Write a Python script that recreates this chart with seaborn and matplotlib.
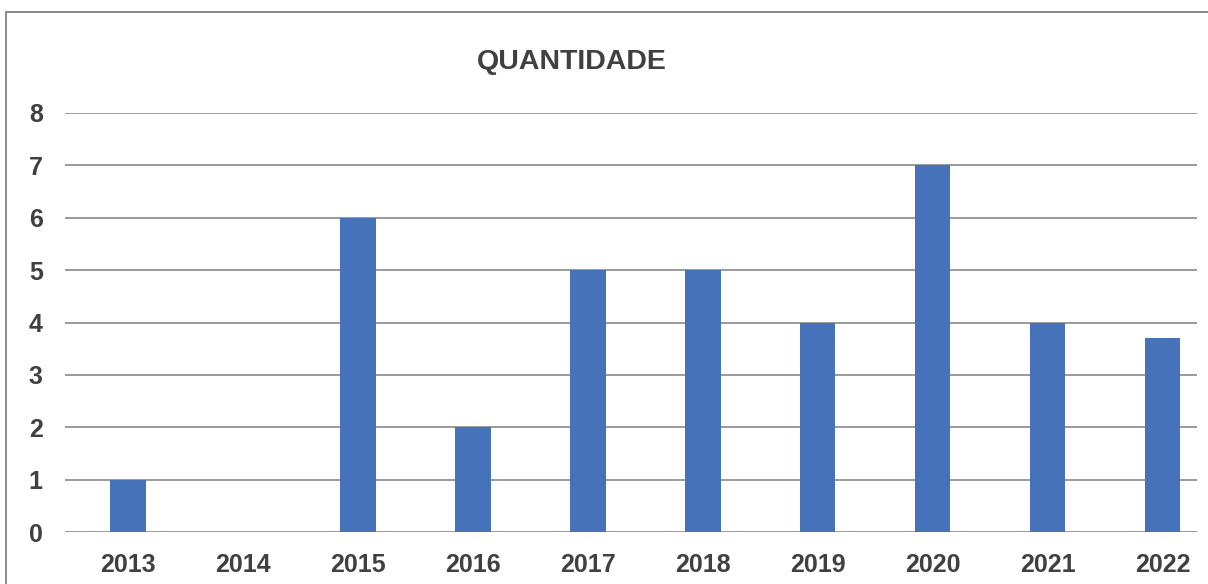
import matplotlib
matplotlib.use("Agg")
import matplotlib.pyplot as plt
from matplotlib.patches import Rectangle
import pandas as pd
import seaborn as sns

years = ["2013", "2014", "2015", "2016", "2017", "2018", "2019", "2020", "2021", "2022"]
quantidade = [1, 0, 6, 2, 5, 5, 4, 7, 4, 3.7]

sns.set_style("white")
plt.rcParams["font.family"] = ["Liberation Sans", "DejaVu Sans"]

df = pd.DataFrame({"ano": years, "quantidade": quantidade})

fig = plt.figure(figsize=(12.08, 5.84), dpi=100)
ax = fig.add_axes([65 / 1208, 1 - 532 / 584, (1197 - 65) / 1208, (532 - 113) / 584])

sns.barplot(data=df, x="ano", y="quantidade", color="#4672BA", saturation=1,
            width=0.31, linewidth=0, ax=ax, zorder=3)

ax.set_ylim(0, 8)
ax.set_xlim(-0.548, 9.30)
ax.set_yticks(range(0, 9))
ax.yaxis.grid(True, color="#9A9A9A", linewidth=1.4, zorder=0)
ax.set_axisbelow(True)
for s in ax.spines.values():
    s.set_visible(False)
ax.set_xlabel("")
ax.set_ylabel("")
ax.tick_params(axis="both", length=0, labelsize=18, labelcolor="#404040")
ax.tick_params(axis="x", pad=15)
ax.tick_params(axis="y", pad=16)
for lbl in ax.get_xticklabels() + ax.get_yticklabels():
    lbl.set_fontweight("bold")

fig.text(572 / 1208, 1 - 62 / 584, "QUANTIDADE", ha="center", va="center",
         fontsize=20.5, fontweight="bold", color="#404040")

# outer frame of the chart area
fig.patches.append(Rectangle((6 / 1208, -0.05), 1.1, 1 - 12 / 584 + 0.05,
                             transform=fig.transFigure, fill=False,
                             edgecolor="#808080", linewidth=1.3))

fig.savefig("out.png", dpi=100)
